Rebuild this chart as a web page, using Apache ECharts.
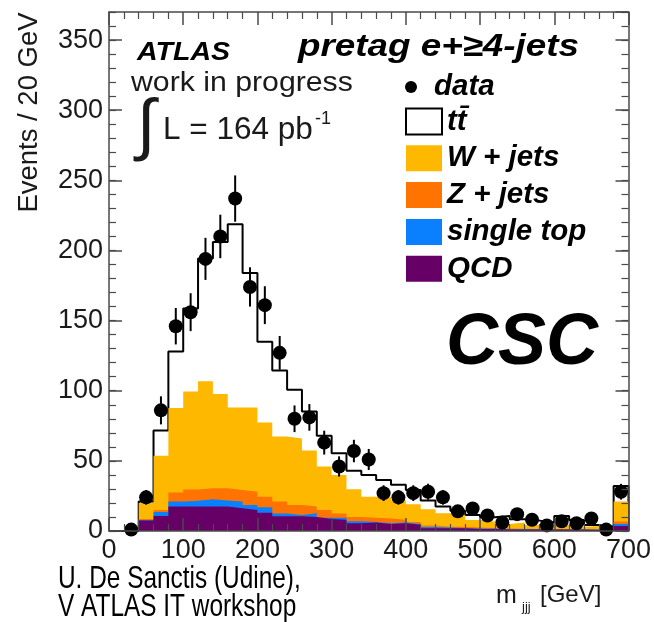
<!DOCTYPE html>
<html>
<head>
<meta charset="utf-8">
<script src="https://cdn.jsdelivr.net/npm/echarts@6/dist/echarts.min.js"></script>
<style>
  html, body { margin: 0; padding: 0; background: #ffffff; }
  #chart { width: 654px; height: 622px; }
</style>
</head>
<body>
<div id="chart"></div>
<script>
// m_jjj histogram, 20 GeV bins (last bin holds the overflow)
const binLow = [0, 20, 40, 60, 80, 100, 120, 140, 160, 180, 200, 220, 240, 260, 280, 300, 320, 340,
                360, 380, 400, 420, 440, 460, 480, 500, 520, 540, 560, 580, 600, 620, 640, 660, 680];
const binWidth = 20;

// Monte Carlo components (events per bin), stacked bottom to top
const qcd       = [0, 0, 7.4, 10.7, 17.5, 17.5, 17.5, 17.4, 16.2, 15, 13, 10.5, 10.5, 10, 8.6, 8, 5.5, 6,
                   5, 5.5, 4.5, 2, 2, 2, 1.5, 1.5, 1, 1, 1, 1, 1, 1, 0.8, 0.5, 3.6];
const singleTop = [0, 0, 0.4, 2.9, 3.5, 4, 5.1, 4.3, 4.8, 3.6, 4, 2, 0.9, 2.6, 0.9, 1.5, 1.5, 0.5,
                   0.5, 0.5, 0.5, 0.8, 0.5, 0.2, 0.3, 0.3, 0.3, 0.2, 0.2, 0.1, 0.1, 0.1, 0.2, 0.2, 1.4];
const zJets     = [0, 0, 0.8, 1.4, 6.4, 8, 7.9, 8.8, 8.3, 9.4, 7.5, 8.5, 7.2, 4.9, 5.5, 3, 3, 3,
                   3.5, 2, 1.5, 1.2, 0.5, 0.8, 0.7, 0.4, 0.5, 0.4, 0.3, 0.3, 0.3, 0.2, 0.2, 0.3, 1.7];
const wJets     = [0, 0, 11.4, 38.6, 60.2, 70, 76.2, 67.1, 58.7, 60, 52.9, 46.4, 47.4, 39.9, 31, 27.5, 19.8, 15,
                   15, 14, 12.5, 11.5, 9.6, 8.4, 5.4, 4.5, 3.2, 4.4, 2.8, 1.2, 2.9, 1.7, 2.4, 0.9, 14.3];
const ttbar     = [0, 0, 1, 18.1, 40.4, 59.1, 87.6, 108.4, 130.6, 96, 57.6, 47.1, 34.7, 27.8, 21.9, 15.5, 13.2, 15.5,
                   12.4, 10.9, 10.3, 6.2, 4.8, 3.1, 3.5, 3.1, 5.7, 2.3, 3.1, 3.4, 6.4, 4.9, 0.7, 1.1, 11];

// Observed data with statistical errors
const dataCounts = [null, 1, 24, 86, 146, 156, 194, 210, 237, 174, 161, 127, 80, 81, 63, 46, 57, 51,
                    27, 24, 27, 28, 24, 14, 16, 11, 6, 12, 8, 4, 7, 5.5, 9, 1, 28];
const dataErrors = [0, 1, 5.2, 10, 13, 13.5, 15, 15.5, 16.5, 14, 13.5, 12, 9.5, 9.5, 8.5, 7.2, 8, 7.5,
                    5.6, 5.2, 5.6, 5.7, 5.2, 4, 4.3, 3.5, 2.6, 3.7, 3, 2.2, 2.8, 2.5, 3.2, 1, 5.6];

const xTickValues = [0, 100, 200, 300, 400, 500, 600, 700];
const yTickValues = [0, 50, 100, 150, 200, 250, 300, 350];

const ttName = 'tt\u0304';
const colors = { w: '#ffb800', z: '#ff7300', stop: '#0a80ff', qcd: '#660066' };
const FONT = "'Liberation Sans', Arial, Helvetica, sans-serif";

// running sums of the stack
function addArrays(a, b) { return a.map((v, i) => v + b[i]); }
const cumQcd  = qcd.slice();
const cumStop = addArrays(cumQcd, singleTop);
const cumZ    = addArrays(cumStop, zJets);
const cumW    = addArrays(cumZ, wJets);
const cumTot  = addArrays(cumW, ttbar);

// histogram outline as step points: left edge of each bin, then close at the last edge
function stepPoints(tops) {
  const pts = binLow.map((x, i) => [x, tops[i]]);
  const last = binLow[binLow.length - 1] + binWidth;
  pts.push([last, tops[tops.length - 1]]);
  pts.push([last, 0]);
  return pts;
}

const dataPoints = [];
const errPoints = [];
binLow.forEach((x, i) => {
  if (dataCounts[i] === null) return;
  dataPoints.push([x + binWidth / 2, dataCounts[i]]);
  errPoints.push([x + binWidth / 2, dataCounts[i], dataErrors[i]]);
});

function fillSeries(name, tops, color, z) {
  return {
    name, type: 'line', step: 'end', data: stepPoints(tops),
    xAxisIndex: 0, yAxisIndex: 0, z,
    symbol: 'none', showSymbol: false, silent: true,
    lineStyle: { width: 0, opacity: 0 },
    areaStyle: { color, opacity: 1 },
    itemStyle: { color }
  };
}

const axisColor = '#4a4a4a';
const labelStyle = { fontFamily: FONT, fontSize: 27, color: '#1a1a1a' };

function xAxisDef(position, showLabels) {
  return {
    type: 'value', position, min: 0, max: 700, interval: 100, z: 10,
    axisLine: { show: true, onZero: false, lineStyle: { color: axisColor, width: 1.5 } },
    axisTick: { show: true, inside: true, length: 13, lineStyle: { color: axisColor, width: 1.5 } },
    minorTick: { show: true, splitNumber: 5, length: 7, lineStyle: { color: axisColor, width: 1.2 } },
    splitLine: { show: false },
    axisLabel: Object.assign({ show: showLabels, margin: 6,
      formatter: v => (xTickValues.includes(v) ? String(v) : '') }, labelStyle)
  };
}

function yAxisDef(position, interval, tickLen, showLabels, showLine) {
  return {
    type: 'value', position, min: 0, max: 370, interval, z: 10,
    axisLine: { show: showLine, onZero: false, lineStyle: { color: axisColor, width: 1.5 } },
    axisTick: { show: true, inside: true, length: tickLen, lineStyle: { color: axisColor, width: interval === 50 ? 1.5 : 1.2 } },
    splitLine: { show: false },
    axisLabel: Object.assign({ show: showLabels, margin: 6, showMaxLabel: false,
      formatter: v => (yTickValues.includes(v) ? String(v) : '') }, labelStyle)
  };
}

const legendText = { fontFamily: FONT, fontSize: 29.5, fontWeight: 'bold', fontStyle: 'italic', color: '#000' };

function txt(text, x, y, size, extra, elExtra) {
  return Object.assign({
    type: 'text', x, y, z: 100, silent: true,
    style: Object.assign({ text, fontFamily: FONT, fontSize: size, fill: '#000',
      align: 'left', verticalAlign: 'middle' }, extra || {})
  }, elExtra || {});
}

const narrow = { scaleX: 0.8 };

const chart = echarts.init(document.getElementById('chart'), null, { renderer: 'canvas' });
chart.setOption({
  animation: false,
  backgroundColor: '#ffffff',
  grid: { left: 109, right: 25, top: 12, bottom: 91, containLabel: false },
  xAxis: [xAxisDef('bottom', true), xAxisDef('top', false)],
  yAxis: [
    yAxisDef('left', 50, 13, true, true),
    yAxisDef('left', 10, 7, false, false),
    yAxisDef('right', 50, 13, false, true),
    yAxisDef('right', 10, 7, false, false)
  ],
  legend: [
    {
      data: [{ name: 'data', icon: 'circle', itemStyle: { color: '#000' } }],
      left: 405, top: 72, padding: 0, itemWidth: 36, itemHeight: 12, itemGap: 8,
      selectedMode: false, textStyle: legendText
    },
    {
      data: [
        { name: ttName, icon: 'rect', itemStyle: { color: '#ffffff', borderColor: '#000', borderWidth: 2 } },
        { name: 'W + jets', icon: 'rect', itemStyle: { color: colors.w, borderWidth: 0 } },
        { name: 'Z + jets', icon: 'rect', itemStyle: { color: colors.z, borderWidth: 0 } },
        { name: 'single top', icon: 'rect', itemStyle: { color: colors.stop, borderWidth: 0 } },
        { name: 'QCD', icon: 'rect', itemStyle: { color: colors.qcd, borderWidth: 0 } }
      ],
      orient: 'vertical', left: 405, top: 106.5, padding: 0,
      itemWidth: 36, itemHeight: 26, itemGap: 6.8,
      selectedMode: false, textStyle: legendText
    }
  ],
  series: [
    {
      name: ttName, type: 'line', step: 'end', data: stepPoints(cumTot),
      xAxisIndex: 0, yAxisIndex: 0, z: 1, symbol: 'none', showSymbol: false, silent: true,
      lineStyle: { color: '#000', width: 2 }, itemStyle: { color: '#fff' }
    },
    fillSeries('W + jets', cumW, colors.w, 2),
    fillSeries('Z + jets', cumZ, colors.z, 3),
    fillSeries('single top', cumStop, colors.stop, 4),
    fillSeries('QCD', cumQcd, colors.qcd, 5),
    {
      name: 'errors', type: 'custom', xAxisIndex: 0, yAxisIndex: 0, z: 6, silent: true,
      data: errPoints, encode: { x: 0, y: 1 },
      renderItem: function (params, api) {
        const x = api.value(0), y = api.value(1), e = api.value(2);
        const top = api.coord([x, y + e]);
        const bot = api.coord([x, Math.max(0, y - e)]);
        return { type: 'line', shape: { x1: top[0], y1: top[1], x2: bot[0], y2: bot[1] },
                 style: { stroke: '#000', lineWidth: 2 } };
      }
    },
    {
      name: 'data', type: 'scatter', xAxisIndex: 0, yAxisIndex: 0, z: 7, silent: true,
      data: dataPoints, symbol: 'circle', symbolSize: 14, itemStyle: { color: '#000', opacity: 1 }
    }
  ],
  graphic: {
    elements: [
      txt('Events / 20 GeV', 29, 112.5, 27.5, { align: 'center', fill: '#1a1a1a' }, { rotation: Math.PI / 2 }),
      txt('ATLAS', 137, 53, 25.5, { fontWeight: 'bold', fontStyle: 'italic' }, { scaleX: 1.12 }),
      txt('work in progress', 131, 83.5, 28, { fill: '#1a1a1a' }, { scaleX: 1.08 }),
      txt('\u222B', 137, 128, 68, { fill: '#1a1a1a' }),
      txt('L = 164 pb', 163, 130.7, 31.5, { fill: '#1a1a1a' }),
      txt('-1', 315, 118.7, 18, { fill: '#1a1a1a' }),
      txt('pretag e+\u22654-jets', 298, 47, 32, { fontWeight: 'bold', fontStyle: 'italic' }, { scaleX: 1.15 }),
      txt('CSC', 446, 344, 72, { fontWeight: 'bold', fontStyle: 'italic' }),
      txt('m', 496, 596, 25, { fill: '#1a1a1a' }),
      txt('jjj', 522, 607, 13, { fill: '#1a1a1a' }),
      txt('[GeV]', 540, 595, 24, { fill: '#1a1a1a' }),
      txt('U. De Sanctis (Udine),', 58, 579.3, 30.5, {}, narrow),
      txt('V ATLAS IT workshop', 58, 607.3, 30.5, {}, narrow)
    ]
  }
});
</script>
</body>
</html>
